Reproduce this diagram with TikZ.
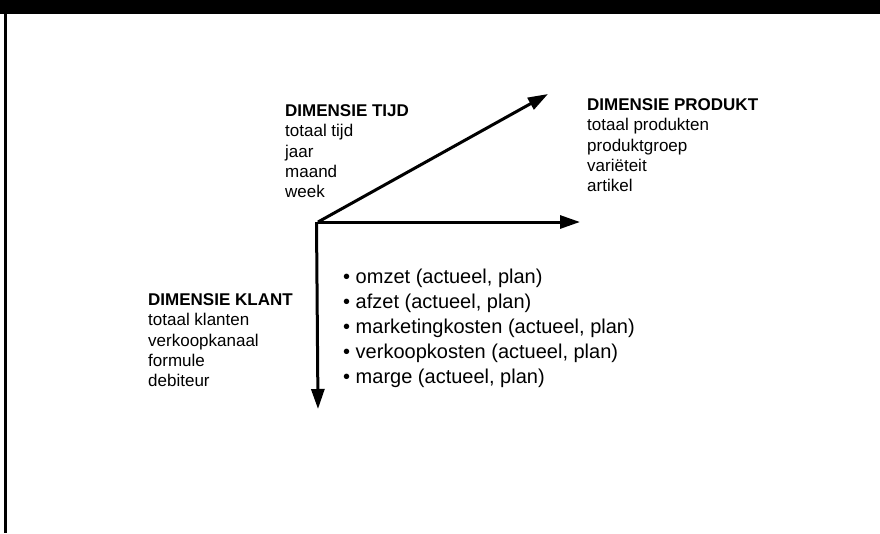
\documentclass[tikz,border=0pt]{standalone}
\usepackage{fontspec}
\setmainfont{Liberation Sans}
\usetikzlibrary{arrows.meta}
\tikzset{
  axis/.style={line width=3pt,-{Triangle[length=20pt,width=13pt]}},
  dimlist/.style={anchor=north west,inner sep=0pt,align=left,font=\fontsize{17}{20.4}\selectfont},
  measlist/.style={anchor=north west,inner sep=0pt,align=left,font=\fontsize{20}{25}\selectfont},
}
\begin{document}
\begin{tikzpicture}[x=1pt,y=-1pt]
\useasboundingbox (0,0) rectangle (880,533);
% frame
\fill[black] (0,0) rectangle (880,14);
\draw[line width=3pt] (5.5,13) -- (5.5,533);
% axes
\coordinate (O) at (318,222);
\coordinate (tT) at (548,94);
\coordinate (tP) at (580,222);
\coordinate (tK) at (318,409);
\draw[axis,line cap=butt] (O) -- (tT);
\draw[axis] (O) -- (tP);
\draw[axis] (316.5,222) -- (tK);
% labels
\node[dimlist] (tijd) at (285,103) {\rule{0pt}{13pt}\textbf{DIMENSIE TIJD}\\totaal tijd\\jaar\\maand\\week};
\node[dimlist] (produkt) at (587,97) {\rule{0pt}{13pt}\textbf{DIMENSIE PRODUKT}\\totaal produkten\\produktgroep\\variëteit\\artikel};
\node[dimlist] (klant) at (148,292) {\rule{0pt}{13pt}\textbf{DIMENSIE KLANT}\\totaal klanten\\verkoopkanaal\\formule\\debiteur};
\node[measlist] (maten) at (343,267) {\rule{0pt}{16pt}• omzet (actueel, plan)\\• afzet (actueel, plan)\\• marketingkosten (actueel, plan)\\• verkoopkosten (actueel, plan)\\• marge (actueel, plan)};
\end{tikzpicture}
\end{document}
